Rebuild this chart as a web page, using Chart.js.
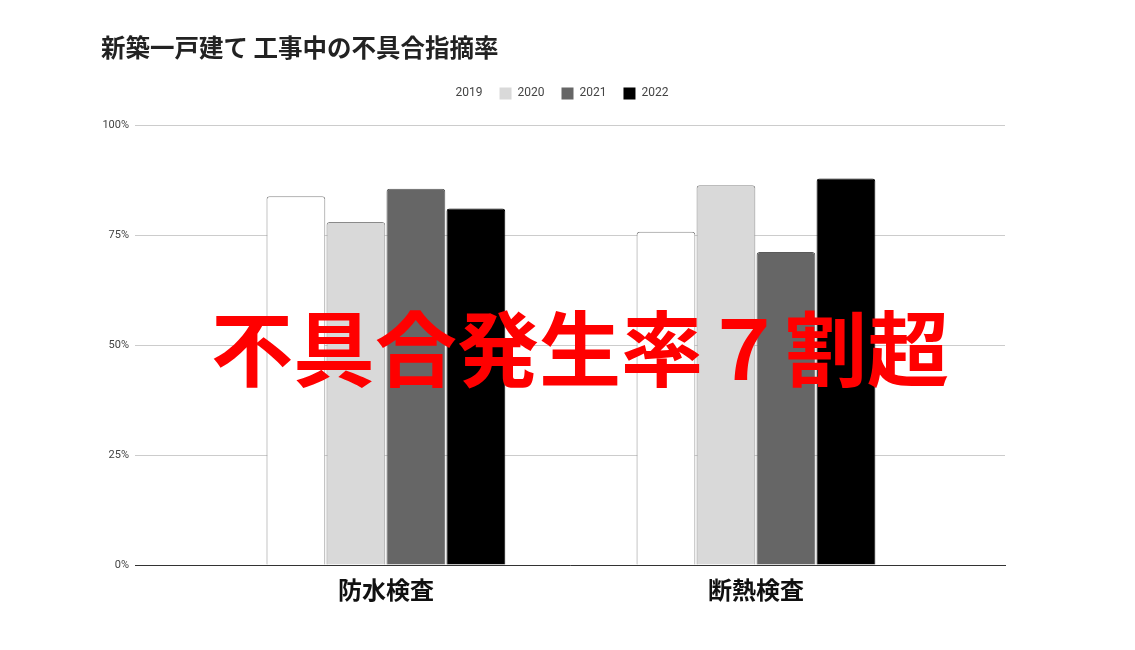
<!DOCTYPE html>
<html><head><meta charset="utf-8">
<script src="https://cdn.jsdelivr.net/npm/chart.js@4.4.0/dist/chart.umd.min.js"></script>
<style>html,body{margin:0;padding:0;background:#fff;} #wrap{width:1135px;height:650px;position:relative;}</style>
</head><body><div id="wrap"><canvas id="c" width="1135" height="650"></canvas></div>
<script>
const chartTitle = '新築一戸建て 工事中の不具合指摘率';
const overlayText = '不具合発生率７割超';
const categories = ['防水検査', '断熱検査'];
const seriesNames = ['2019', '2020', '2021', '2022'];
const values2019 = [83.9, 75.8];
const values2020 = [78.0, 86.4];
const values2021 = [85.6, 71.2];
const values2022 = [81.1, 87.9];
const yTickValues = [0, 25, 50, 75, 100];
const seriesFill = ['#ffffff', '#d9d9d9', '#666666', '#000000'];
const seriesBorder = ['#8a8a8a', '#8a8a8a', '#5a5a5a', '#000000'];

const allValues = [values2019, values2020, values2021, values2022];
const toPoints = arr => arr.map((v, i) => ({x: i, y: v}));

const overlayPlugin = {
  id: 'overlay',
  beforeLayout(chart) {
    const lg = chart.legend;
    if (lg && !lg._extraPatched) {
      const orig = lg.fit.bind(lg);
      lg.fit = function () { orig(); this.height += 16; };
      lg._extraPatched = true;
    }
  },
  afterDraw(chart) {
    const ctx = chart.ctx;
    ctx.save();
    ctx.font = 'bold 82px "Noto Sans CJK JP"';
    ctx.fillStyle = '#ff0000';
    ctx.textAlign = 'center';
    ctx.textBaseline = 'middle';
    ctx.fillText(overlayText, 580, 349);
    ctx.restore();
  }
};

new Chart(document.getElementById('c'), {
  type: 'bar',
  data: {
    datasets: seriesNames.map((name, k) => ({
      label: name,
      data: toPoints(allValues[k]),
      backgroundColor: seriesFill[k],
      borderColor: seriesBorder[k],
      borderWidth: 1,
      borderRadius: {topLeft: 3, topRight: 3, bottomLeft: 0, bottomRight: 0},
      borderSkipped: 'bottom',
      categoryPercentage: 0.6486,
      barPercentage: 0.98
    }))
  },
  options: {
    responsive: false,
    animation: false,
    devicePixelRatio: 1,
    layout: {padding: {left: 101, right: 130, top: 20, bottom: 0}},
    plugins: {
      title: {
        display: true,
        text: chartTitle,
        align: 'start',
        color: '#222222',
        font: {family: '"Noto Sans CJK JP"', size: 24.5, weight: 'bold'},
        padding: {top: 13, bottom: 8}
      },
      legend: {
        display: true,
        position: 'top',
        labels: {
          boxWidth: 12,
          boxHeight: 12,
          padding: 17,
          color: '#444444',
          font: {family: 'Roboto, Arial', size: 12},
          generateLabels(chart) {
            const items = Chart.defaults.plugins.legend.labels.generateLabels(chart);
            items.forEach(it => { it.lineWidth = 0; it.strokeStyle = it.fillStyle; });
            return items;
          }
        }
      },
      tooltip: {enabled: false}
    },
    scales: {
      x: {
        type: 'linear',
        offset: false,
        min: -0.678,
        max: 1.673,
        afterBuildTicks(scale) { scale.ticks = categories.map((c, i) => ({value: i})); },
        afterFit(scale) { scale.height = 85; },
        grid: {display: false, drawTicks: false},
        border: {display: true, color: '#333333', width: 1},
        ticks: {
          padding: 10,
          color: '#111111',
          autoSkip: false,
          maxRotation: 0,
          font: {family: '"Noto Sans CJK JP"', size: 24, weight: 'bold'},
          callback: v => categories[v] !== undefined ? categories[v] : ''
        }
      },
      y: {
        min: 0,
        max: 100,
        afterBuildTicks(scale) { scale.ticks = yTickValues.map(v => ({value: v})); },
        afterFit(scale) { scale.width = 34; },
        grid: {color: '#cccccc', drawTicks: false, lineWidth: 1},
        border: {display: false},
        ticks: {
          padding: 6,
          color: '#444444',
          font: {family: 'Roboto, Arial', size: 11},
          callback: v => v + '%'
        }
      }
    }
  },
  plugins: [overlayPlugin]
});
</script>
</body></html>
